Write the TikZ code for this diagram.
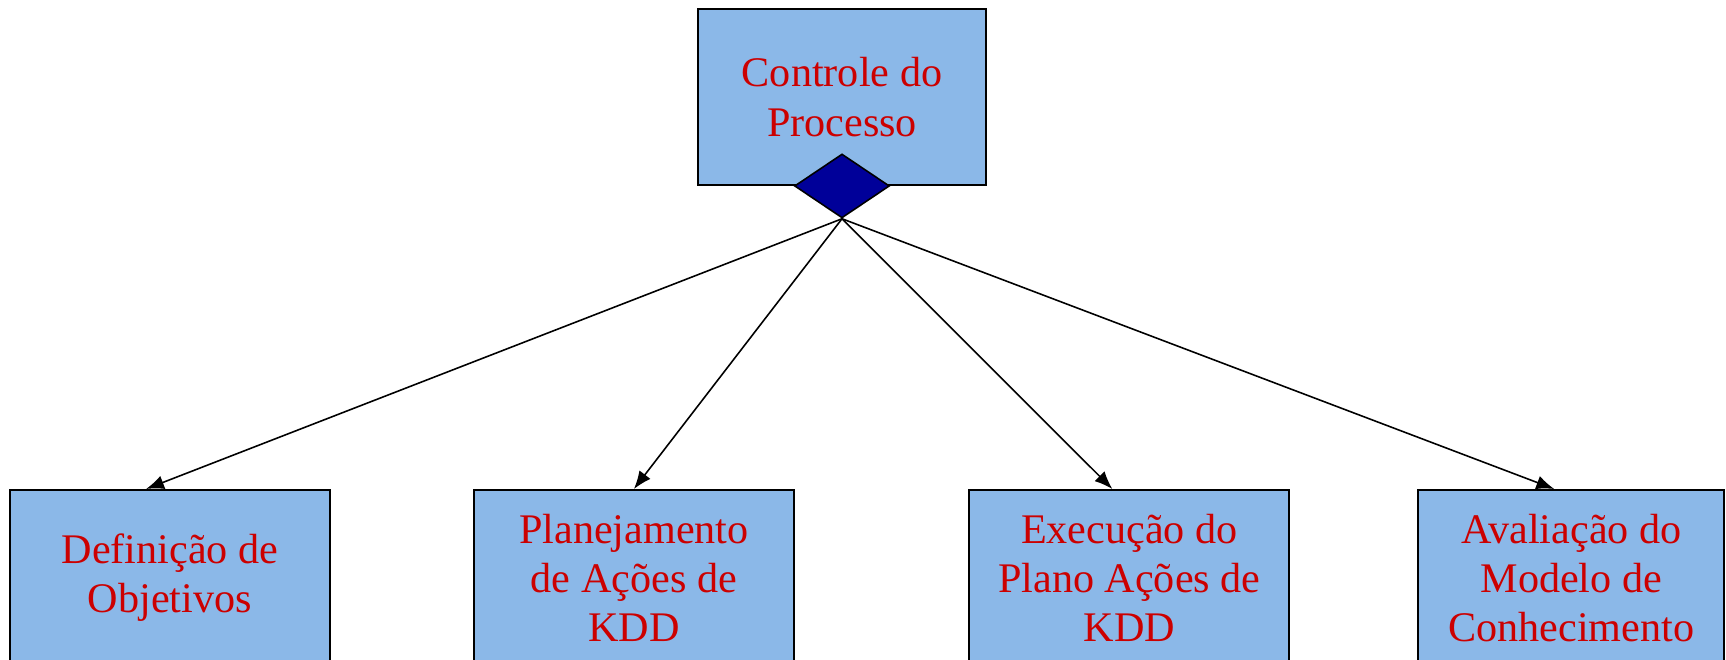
\documentclass[tikz,border=0pt]{standalone}
\usepackage{fontspec}
\setmainfont{Liberation Serif}
\usepackage{tikz}
\usetikzlibrary{shapes,arrows}
\usetikzlibrary{shapes.geometric, arrows.meta, positioning}

\definecolor{boxblue}{RGB}{139,184,232}
\definecolor{navy}{RGB}{0,0,153}
\definecolor{txtred}{RGB}{204,0,0}

\tikzset{
    task/.style={draw, line width=1.1pt, fill=boxblue, text=txtred, align=center,
        inner sep=0pt, minimum width=6.4cm, minimum height=3.52cm,
        font=\fontsize{24}{28}\selectfont},
    ctrl/.style={diamond, draw, line width=0.9pt, fill=navy, inner sep=0pt,
        minimum width=1.9cm, minimum height=1.28cm}
}

\begin{document}
\begin{tikzpicture}[node distance=2.84cm, auto]
        \useasboundingbox (0,0) rectangle (34.52,-13.2);
        \node (ctl) [task, minimum width=5.76cm, minimum height=3.52cm] at (16.84,-1.94) {Controle do\\Processo};
        \node (dia) [ctrl] at (ctl.south) {};
        
        \node (d1) [task, anchor=north] at (3.4,-9.78) {Definição de\\Objetivos};
        \node (d2) [task, right=2.84cm of d1] {Planejamento\\de Ações de\\KDD};
        \node (d3) [task, right=3.47cm of d2] {Execução do\\Plano Ações de\\KDD};
        \node (d4) [task, minimum width=6.12cm, right=2.54cm of d3] {Avaliação do\\Modelo de\\Conhecimento};
        
        \path [-{Latex[length=0.36cm, width=0.28cm]}, line width=0.9pt]
            (dia.south) edge ([xshift=-0.48cm]d1.north)
            (dia.south) edge (d2.north)
            (dia.south) edge ([xshift=-0.34cm]d3.north)
            (dia.south) edge ([xshift=-0.34cm]d4.north)
            ;
    \end{tikzpicture}
\end{document}
